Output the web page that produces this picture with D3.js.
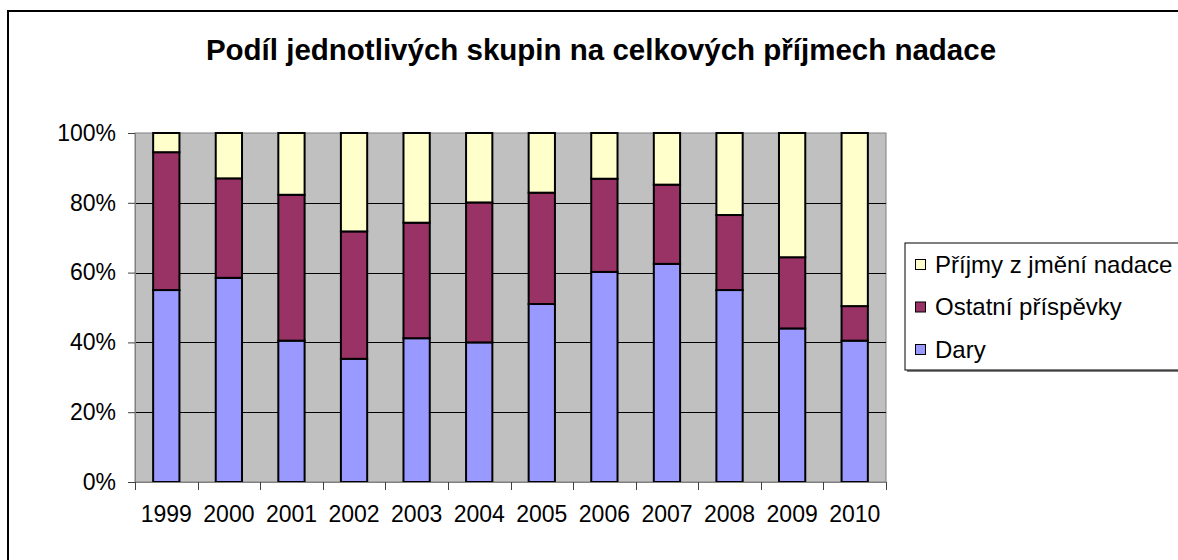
<!DOCTYPE html>
<html>
<head>
<meta charset="utf-8">
<script src="https://cdn.jsdelivr.net/npm/d3@7"></script>
<style>
    body { margin: 0; background: #fff; }
    svg { display: block; font-family: "Liberation Sans", Arial, sans-serif; }
</style>
</head>
<body>
<div id="chart"></div>
<script>
const WIDTH = 1178;
const HEIGHT = 560;
const PLOT = { left: 135, right: 886, top: 133, bottom: 482 };

// data (percent of total per year)
const years = ["1999", "2000", "2001", "2002", "2003", "2004", "2005", "2006", "2007", "2008", "2009", "2010"];
const dary = [55.0, 58.5, 40.5, 35.3, 41.2, 40.0, 51.0, 60.2, 62.5, 55.0, 44.0, 40.5];
const ostatni = [39.5, 28.5, 41.8, 36.5, 33.1, 40.1, 31.9, 26.7, 22.7, 21.5, 20.4, 9.9];
const prijmy = [5.5, 13.0, 17.7, 28.2, 25.7, 19.9, 17.1, 13.1, 14.8, 23.5, 35.6, 49.6];

const seriesNames = ["Dary", "Ostatní příspěvky", "Příjmy z jmění nadace"];
const seriesColors = ["#9999FF", "#993366", "#FFFFCC"];
const yTicks = [0, 20, 40, 60, 80, 100];

const table = years.map((y, i) => ({
    year: y,
    "Dary": dary[i],
    "Ostatní příspěvky": ostatni[i],
    "Příjmy z jmění nadace": prijmy[i]
}));

const svg = d3.select("#chart")
    .append("svg")
    .attr("width", WIDTH)
    .attr("height", HEIGHT);

// outer chart frame (runs off right and bottom)
svg.append("rect")
    .attr("x", 8)
    .attr("y", 11)
    .attr("width", 1300)
    .attr("height", 700)
    .attr("fill", "#fff")
    .attr("stroke", "#000")
    .attr("stroke-width", 2);

svg.append("text")
    .attr("x", 601)
    .attr("y", 60)
    .attr("text-anchor", "middle")
    .style("font-size", "29.5px")
    .style("font-weight", "bold")
    .text("Podíl jednotlivých skupin na celkových příjmech nadace");

const x = d3.scaleBand()
    .domain(years)
    .range([PLOT.left, PLOT.right])
    .paddingInner(0.58)
    .paddingOuter(0.29);

const y = d3.scaleLinear()
    .domain([0, 100])
    .range([PLOT.bottom, PLOT.top]);

// plot background
svg.append("rect")
    .attr("x", PLOT.left)
    .attr("y", PLOT.top)
    .attr("width", PLOT.right - PLOT.left)
    .attr("height", PLOT.bottom - PLOT.top)
    .attr("fill", "#C0C0C0")
    .attr("stroke", "#808080")
    .attr("stroke-width", 1);

// gridlines
svg.append("g")
    .selectAll("line")
    .data(yTicks.slice(1, -1))
    .join("line")
    .attr("x1", PLOT.left)
    .attr("x2", PLOT.right)
    .attr("y1", (d) => Math.round(y(d)) + 0.5)
    .attr("y2", (d) => Math.round(y(d)) + 0.5)
    .attr("stroke", "#000")
    .attr("stroke-width", 1);

// bars
const stack = d3.stack().keys(seriesNames);
const layers = stack(table);

svg.append("g")
    .selectAll("g")
    .data(layers)
    .join("g")
    .attr("fill", (d, i) => seriesColors[i])
    .selectAll("rect")
    .data((d) => d)
    .join("rect")
    .attr("x", (d) => x(d.data.year))
    .attr("y", (d) => y(d[1]))
    .attr("width", x.bandwidth())
    .attr("height", (d) => y(d[0]) - y(d[1]))
    .attr("stroke", "#000")
    .attr("stroke-width", 2);

// y axis
const yAxis = svg.append("g")
    .attr("transform", `translate(${PLOT.left},0)`)
    .call(d3.axisLeft(y).tickValues(yTicks).tickSize(7).tickPadding(12).tickFormat((d) => d + "%"));
yAxis.select(".domain").attr("stroke", "#808080");
yAxis.selectAll(".tick line").attr("stroke", "#404040");
yAxis.selectAll("text")
    .style("font-size", "23px")
    .attr("fill", "#000")
    .attr("font-family", null);

// x axis: labels centred on bands, ticks on category boundaries
const xAxis = svg.append("g")
    .attr("transform", `translate(0,${PLOT.bottom})`)
    .call(d3.axisBottom(x).tickSize(0).tickPadding(24));
xAxis.select(".domain").attr("stroke", "#808080");
xAxis.selectAll("text")
    .style("font-size", "23px")
    .attr("fill", "#000")
    .attr("font-family", null);

const step = x.step();
svg.append("g")
    .selectAll("line")
    .data(d3.range(years.length + 1))
    .join("line")
    .attr("x1", (d) => Math.round(PLOT.left + d * step) + 0.5)
    .attr("x2", (d) => Math.round(PLOT.left + d * step) + 0.5)
    .attr("y1", PLOT.bottom)
    .attr("y2", PLOT.bottom + 8)
    .attr("stroke", "#404040");

// legend
const legend = svg.append("g").attr("transform", "translate(905,243)");
legend.append("rect")
    .attr("x", 2).attr("y", 2)
    .attr("width", 300).attr("height", 127)
    .attr("fill", "#808080");
legend.append("rect")
    .attr("x", 0).attr("y", 0)
    .attr("width", 300).attr("height", 127)
    .attr("fill", "#fff")
    .attr("stroke", "#000")
    .attr("stroke-width", 1);

const legendOrder = [2, 1, 0];
const items = legend.selectAll("g.item")
    .data(legendOrder)
    .join("g")
    .attr("class", "item")
    .attr("transform", (d, i) => `translate(0,${21 + i * 42.5})`);

items.append("rect")
    .attr("x", 10.5).attr("y", -4.5)
    .attr("width", 10).attr("height", 10)
    .attr("fill", (d) => seriesColors[d])
    .attr("stroke", "#000")
    .attr("stroke-width", 1);

items.append("text")
    .attr("x", 30)
    .attr("y", 8.5)
    .style("font-size", "24px")
    .text((d) => seriesNames[d]);
</script>
</body>
</html>
